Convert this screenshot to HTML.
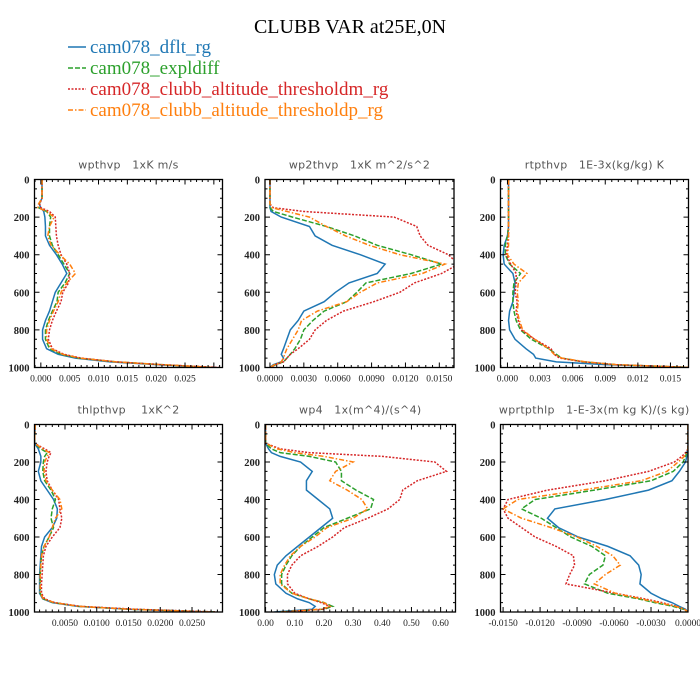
<!DOCTYPE html>
<html><head><meta charset="utf-8"><style>
body{margin:0;background:#fff;width:700px;height:700px;overflow:hidden}
svg{display:block}
text{white-space:pre}
</style></head><body>
<svg id="chart" width="700" height="700" xmlns="http://www.w3.org/2000/svg">
<text x="350" y="33" text-anchor="middle" font-family="Liberation Serif, serif" font-size="20" fill="#000">CLUBB VAR at25E,0N</text>
<g>
<g><line x1="68" y1="47" x2="86" y2="47" stroke="#1f77b4" stroke-width="1.5"/><text x="90" y="53" font-family="Liberation Serif, serif" font-size="19" fill="#1f77b4">cam078_dflt_rg</text></g>
<g><line x1="68" y1="68" x2="86" y2="68" stroke="#2ca02c" stroke-width="1.5" stroke-dasharray="5,2"/><text x="90" y="74" font-family="Liberation Serif, serif" font-size="19" fill="#2ca02c">cam078_expldiff</text></g>
<g><line x1="68" y1="89" x2="86" y2="89" stroke="#d62728" stroke-width="1.5" stroke-dasharray="2,1.5"/><text x="90" y="95" font-family="Liberation Serif, serif" font-size="19" fill="#d62728">cam078_clubb_altitude_thresholdm_rg</text></g>
<g><line x1="68" y1="110" x2="86" y2="110" stroke="#ff7f0e" stroke-width="1.5" stroke-dasharray="5,2,1.5,2"/><text x="90" y="116" font-family="Liberation Serif, serif" font-size="19" fill="#ff7f0e">cam078_clubb_altitude_thresholdp_rg</text></g>
</g>
</svg>
<script>
const pLevels=[0,100,130,150,170,200,250,300,350,400,450,500,550,600,650,700,750,800,850,900,930,950,970,985,1000];
const seriesNames=['dflt','expldiff','thresholdm','thresholdp'];
// panel 1 wpthvp
const p1Blue=[0.0002,0.0002,-0.0003,0,0.0005,0.0007,0.0008,0.0008,0.0015,0.0027,0.0037,0.0045,0.0035,0.0025,0.002,0.0015,0.0008,0.0003,0.0003,0.001,0.003,0.006,0.012,0.02,0.029];
const p1Green=[0.0002,0.0002,-0.0003,-0.0004,0.001,0.0017,0.0015,0.0015,0.002,0.003,0.004,0.005,0.0042,0.003,0.0028,0.002,0.0013,0.0008,0.0008,0.0015,0.0035,0.0065,0.013,0.021,0.03];
const p1Red=[0.0002,0.0002,-0.0002,0,0.0015,0.0025,0.0026,0.0027,0.003,0.0035,0.0045,0.005,0.0048,0.0038,0.0035,0.0027,0.002,0.0015,0.0013,0.002,0.004,0.007,0.013,0.021,0.031];
const p1Orange=[0.0002,0.0002,-0.0004,-0.0005,0.001,0.0023,0.0015,0.0012,0.0018,0.0033,0.005,0.006,0.0045,0.0035,0.003,0.0022,0.0015,0.001,0.001,0.0018,0.0038,0.0068,0.013,0.021,0.03];
const p1Ticks=[0,0.005,0.01,0.015,0.02,0.025];
const p1Labels=['0.000','0.005','0.010','0.015','0.020','0.025'];
// panel 2 wp2thvp
const p2Blue=[0,0,0,0,0.0001,0.001,0.0035,0.004,0.0055,0.008,0.0102,0.0095,0.007,0.0058,0.0048,0.003,0.0025,0.0018,0.0015,0.0012,0.001,0.0012,0.001,0.0003,0];
const p2Green=[0,0,0,0,0.0003,0.002,0.005,0.0075,0.0095,0.0125,0.0152,0.0125,0.0085,0.0077,0.0068,0.0048,0.0038,0.003,0.0027,0.0022,0.0018,0.0015,0.0012,0.0005,0];
const p2Red=[0,0,0,0.0003,0.003,0.011,0.013,0.0133,0.014,0.0158,0.0167,0.0152,0.0128,0.0115,0.0092,0.0065,0.005,0.004,0.0035,0.0025,0.0018,0.0015,0.0012,0.0005,0];
const p2Orange=[0,0,0,0.0002,0.0015,0.0035,0.005,0.0067,0.0088,0.0115,0.0155,0.0135,0.0095,0.008,0.0068,0.0042,0.0028,0.0025,0.002,0.0015,0.0013,0.0012,0.001,0.0004,0];
const p2Ticks=[0,0.003,0.006,0.009,0.012,0.015];
const p2Labels=['0.0000','0.0030','0.0060','0.0090','0.0120','0.0150'];
// panel 3 rtpthvp
const p3Blue=[0.0001,0.0001,0.0001,0.0001,0.0001,0.0001,0.0001,0,-0.0003,-0.0004,-0.0003,0.0005,0.0007,0.0006,0.0005,0.0002,0.0001,0.0002,0.0007,0.0017,0.0024,0.0026,0.0045,0.009,0.017];
const p3Green=[0.0001,0.0001,0.0001,0.0001,0.0001,0.0001,0.0001,0,-0.0002,-0.0002,0.0002,0.0012,0.0006,0.0005,0.0005,0.0006,0.0008,0.0012,0.0022,0.0038,0.0045,0.005,0.007,0.01,0.017];
const p3Red=[0.0001,0.0001,0.0001,0.0001,0.0001,0.0001,0.0001,0.0001,0,-0.0001,0.0003,0.0008,0.0008,0.0007,0.0009,0.0008,0.001,0.0013,0.0025,0.004,0.0043,0.0048,0.007,0.01,0.017];
const p3Orange=[0.0001,0.0001,0.0001,0.0001,0.0001,0.0001,0.0001,0.0001,0.0001,0,0.0006,0.0018,0.001,0.0009,0.001,0.0009,0.0011,0.0014,0.0025,0.0038,0.0043,0.005,0.0072,0.01,0.017];
const p3Ticks=[0,0.003,0.006,0.009,0.012,0.015];
const p3Labels=['0.000','0.003','0.006','0.009','0.012','0.015'];
// panel 4 thlpthvp
const p4Blue=[0.0003,0.0002,0.0008,0.001,0.0012,0.0012,0.0008,0.0012,0.0022,0.0032,0.0038,0.0037,0.003,0.0018,0.0013,0.0012,0.0011,0.001,0.001,0.001,0.0015,0.003,0.007,0.015,0.028];
const p4Green=[0.0003,0.0002,0.0012,0.0022,0.0018,0.0016,0.0015,0.0018,0.0028,0.0035,0.003,0.0028,0.0032,0.0025,0.0017,0.0013,0.0012,0.0011,0.0011,0.0011,0.0016,0.0032,0.0072,0.015,0.029];
const p4Red=[0.0003,0.0002,0.0018,0.0028,0.0025,0.0022,0.002,0.0022,0.003,0.004,0.0042,0.0045,0.0042,0.003,0.002,0.0016,0.0015,0.0014,0.0013,0.0013,0.0018,0.0034,0.0075,0.016,0.029];
const p4Orange=[0.0003,0.0002,0.0015,0.0025,0.0022,0.0018,0.0017,0.002,0.003,0.0042,0.0045,0.0035,0.003,0.0025,0.0017,0.0013,0.0012,0.0011,0.0011,0.0011,0.0016,0.0033,0.0073,0.015,0.028];
const p4Ticks=[0.005,0.01,0.015,0.02,0.025];
const p4Labels=['0.0050','0.0100','0.0150','0.0200','0.0250'];
// panel 5 wp4
const p5Blue=[0,0,0.01,0.02,0.05,0.12,0.16,0.14,0.14,0.18,0.22,0.23,0.19,0.15,0.11,0.07,0.04,0.03,0.035,0.07,0.11,0.15,0.17,0.16,0.03];
const p5Green=[0,0,0.02,0.05,0.15,0.24,0.26,0.26,0.31,0.37,0.36,0.28,0.2,0.16,0.12,0.09,0.07,0.055,0.055,0.09,0.15,0.2,0.23,0.2,0.05];
const p5Red=[0,0,0.05,0.15,0.4,0.58,0.62,0.52,0.47,0.46,0.42,0.35,0.27,0.23,0.18,0.12,0.09,0.075,0.075,0.1,0.15,0.19,0.22,0.2,0.06];
const p5Orange=[0,0,0.04,0.1,0.2,0.3,0.24,0.22,0.28,0.33,0.35,0.3,0.21,0.17,0.12,0.085,0.065,0.05,0.05,0.09,0.15,0.2,0.22,0.19,0.05];
const p5Ticks=[0,0.1,0.2,0.3,0.4,0.5,0.6];
const p5Labels=['0.00','0.10','0.20','0.30','0.40','0.50','0.60'];
// panel 6 wprtpthlp
const p6Blue=[0,0,0,-0.0001,-0.0001,-0.0002,-0.0007,-0.0013,-0.0032,-0.0067,-0.0108,-0.0114,-0.0105,-0.0089,-0.0065,-0.0047,-0.004,-0.0038,-0.0039,-0.003,-0.0021,-0.0013,-0.0007,-0.0002,0];
const p6Green=[0,0,0,-0.0001,-0.0002,-0.0004,-0.0012,-0.003,-0.0076,-0.0124,-0.0135,-0.0119,-0.0107,-0.0095,-0.0078,-0.0067,-0.0069,-0.008,-0.0084,-0.0065,-0.004,-0.0027,-0.0012,-0.0004,0];
const p6Red=[0,0,0,-0.0002,-0.0005,-0.0011,-0.0032,-0.0067,-0.0114,-0.0146,-0.015,-0.0146,-0.0135,-0.0124,-0.0107,-0.0093,-0.0092,-0.0096,-0.0099,-0.0059,-0.0035,-0.0021,-0.0009,-0.0003,0];
const p6Orange=[0,0,0,-0.0001,-0.0003,-0.0008,-0.0017,-0.0038,-0.0086,-0.0138,-0.015,-0.0135,-0.0111,-0.009,-0.0074,-0.0061,-0.0055,-0.0067,-0.0076,-0.0059,-0.0038,-0.0024,-0.001,-0.0003,0];
const p6Ticks=[-0.015,-0.012,-0.009,-0.006,-0.003,0];
const p6Labels=['-0.0150','-0.0120','-0.0090','-0.0060','-0.0030','0.0000'];
const yTicks=[0,200,400,600,800,1000];

const NS='http://www.w3.org/2000/svg';
const svg=document.getElementById('chart');
const colors=['#1f77b4','#2ca02c','#d62728','#ff7f0e'];
const dashes=['none','5,2','2,1.5','5,2,1.5,2'];
const panels=[
 {name:'wpthvp',title:'wpthvp   1xK m/s',x:34.5,y:179.5,w:188,h:188,xmin:-0.0011,xmax:0.0315,series:[p1Blue,p1Green,p1Red,p1Orange],ticks:p1Ticks,labels:p1Labels},
 {name:'wp2thvp',title:'wp2thvp   1xK m^2/s^2',x:265,y:179.5,w:189,h:188,xmin:-0.00044,xmax:0.0163,series:[p2Blue,p2Green,p2Red,p2Orange],ticks:p2Ticks,labels:p2Labels},
 {name:'rtpthvp',title:'rtpthvp   1E-3x(kg/kg) K',x:500.5,y:179.5,w:188,h:188,xmin:-0.00064,xmax:0.01666,series:[p3Blue,p3Green,p3Red,p3Orange],ticks:p3Ticks,labels:p3Labels},
 {name:'thlpthvp',title:'thlpthvp    1xK^2',x:34.5,y:424.5,w:188,h:187.5,xmin:0.0002,xmax:0.0298,series:[p4Blue,p4Green,p4Red,p4Orange],ticks:p4Ticks,labels:p4Labels},
 {name:'wp4',title:'wp4   1x(m^4)/(s^4)',x:265,y:424.5,w:190.5,h:187.5,xmin:-0.002,xmax:0.651,series:[p5Blue,p5Green,p5Red,p5Orange],ticks:p5Ticks,labels:p5Labels},
 {name:'wprtpthlp',title:'wprtpthlp   1-E-3x(m kg K)/(s kg)',x:500.5,y:424.5,w:187.5,h:187.5,xmin:-0.01521,xmax:0,series:[p6Blue,p6Green,p6Red,p6Orange],ticks:p6Ticks,labels:p6Labels}
];
function mk(tag,attrs,parent){const e=document.createElementNS(NS,tag);for(const k in attrs)e.setAttribute(k,attrs[k]);parent.appendChild(e);return e;}
panels.forEach(p=>{
 const g=mk('g',{},svg);
 
 
 const xs=v=>p.x+(v-p.xmin)/(p.xmax-p.xmin)*p.w;
 const ys=v=>p.y+v/1000*p.h;
 const cp='clip-'+p.name;
 const cl=mk('clipPath',{id:cp},g);mk('rect',{x:p.x,y:p.y,width:p.w,height:p.h},cl);
 const t=mk('text',{x:p.x+p.w/2,y:p.y-11,'text-anchor':'middle','font-family':'DejaVu Sans, sans-serif','font-size':'11','fill':'#555','letter-spacing':'0.3'},g);
 t.textContent=p.title;
 
 
 p.series.forEach((s,i)=>{
  const d=s.map((v,j)=>(j?'L':'M')+xs(v).toFixed(2)+','+ys(pLevels[j]).toFixed(2)).join('');
  const path=mk('path',{d:d,fill:'none',stroke:colors[i],'stroke-width':'1.5','stroke-dasharray':dashes[i],'clip-path':'url(#'+cp+')'},g);
  
  
 });
 const box=mk('rect',{x:p.x,y:p.y,width:p.w,height:p.h,fill:'none',stroke:'#000','stroke-width':'1.3'},g);
 
 
 let td='';
 for(let v=0;v<=1000;v+=50){const y=ys(v);const L=(v%200===0)?5:2.5;td+=`M${p.x},${y}h${L}M${p.x+p.w},${y}h${-L}`;}
 const step=p.ticks[1]-p.ticks[0];
 for(let k=-2;k<p.ticks.length+2;k++){
  const v=p.ticks[0]+k*step;const x=xs(v);if(x>=p.x-0.1&&x<=p.x+p.w+0.1){td+=`M${x},${p.y+p.h}v-5M${x},${p.y}v5`;}
  for(let m=1;m<5;m++){const xm=xs(v+m*step/5);if(xm>p.x&&xm<p.x+p.w)td+=`M${xm},${p.y+p.h}v-2.5M${xm},${p.y}v2.5`;}
 }
 mk('path',{d:td,stroke:'#000','stroke-width':'1',fill:'none'},g);
 yTicks.forEach(v=>{const tt=mk('text',{x:p.x-5,y:ys(v)+4,'text-anchor':'end','font-family':'Liberation Serif, serif','font-size':'10.5','font-weight':'bold','fill':'#222'},g);tt.textContent=String(v);
  
  });
 p.ticks.forEach((v,i)=>{const tt=mk('text',{x:xs(v),y:p.y+p.h+14,'text-anchor':'middle','font-family':'Liberation Serif, serif','font-size':'9.5','fill':'#222'},g);tt.textContent=p.labels[i];
  
  });
});
</script>
</body></html>
